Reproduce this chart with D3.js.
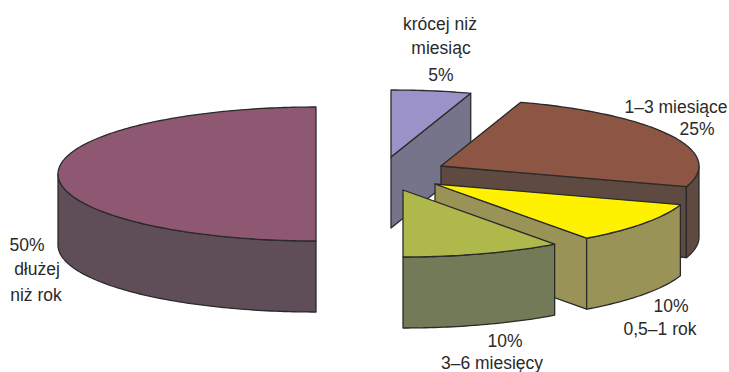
<!DOCTYPE html>
<html>
<head>
<meta charset="utf-8">
<script src="https://cdnjs.cloudflare.com/ajax/libs/d3/7.8.5/d3.min.js"></script>
<style>
  html, body { margin: 0; padding: 0; background: #fff; }
  svg { display: block; }
  text { font-family: "Liberation Sans", Arial, sans-serif; font-size: 17.5px; fill: #2b2a2a; }
</style>
</head>
<body>
<svg id="chart" width="729" height="372"></svg>
<script>
// Slice data, clockwise from the "1–3 miesiące" wedge
const categories = ["1–3 miesiące", "0,5–1 rok", "3–6 miesięcy", "dłużej niż rok", "krócej niż miesiąc"];
const shares = [25, 10, 10, 50, 5];

// Colours per slice: top face and side walls
const topColors = ["#8c5544", "#fff200", "#afb84a", "#8e5873", "#9b93c8"];
const wallColors = ["#5f4a42", "#9a9358", "#737a58", "#5f4e58", "#76748a"];

// Exploded position of each slice's apex
const apexX = [441, 435, 403, 316, 391];
const apexY = [166, 184, 190, 174, 157];

// Painter's order: back to front
const drawOrder = [4, 3, 0, 1, 2];

// Multi-line labels
const labelRows = [
  { lines: ["1–3 miesiące", "25%"], x: [676, 697], y: [113, 135] },
  { lines: ["10%", "0,5–1 rok"], x: [671, 660], y: [312, 335] },
  { lines: ["10%", "3–6 miesięcy"], x: [505, 492], y: [347, 369] },
  { lines: ["50%", "dłużej", "niż rok"], x: [27, 37, 36], y: [251, 275, 301] },
  { lines: ["krócej niż", "miesiąc", "5%"], x: [440, 441, 441], y: [30, 54, 81] }
];

const radiusX = 258, radiusY = 67, depth = 71;
const deg = Math.PI / 180;
const firstAngle = 18 * deg;

const svg = d3.select("#chart");

const pie = d3.pie().sort(null).startAngle(firstAngle).endAngle(firstAngle + 2 * Math.PI);
const arcs = pie(shares);

const pathLine = d3.line();

// Point on the tilted rim, angle measured clockwise from north
const rim = (i, a, drop = 0) => [
  apexX[i] + radiusX * Math.sin(a),
  apexY[i] - radiusY * Math.cos(a) + drop
];

const sample = (a0, a1) => {
  const n = Math.max(2, Math.ceil(Math.abs(a1 - a0) / deg));
  return d3.range(n + 1).map(k => a0 + (a1 - a0) * k / n);
};

const sliceLayer = svg.append("g")
  .attr("stroke", "#2b2a2a")
  .attr("stroke-width", 1.3)
  .attr("stroke-linejoin", "round");

drawOrder.forEach(i => {
  const { startAngle: a0, endAngle: a1 } = arcs[i];
  const apex = [apexX[i], apexY[i]];
  const g = sliceLayer.append("g").attr("class", "slice");

  // Cut face on the trailing edge, drawn when that edge points to the right of the apex
  if (Math.sin(a1) > 0.01) {
    const e = rim(i, a1);
    g.append("path")
      .attr("fill", wallColors[i])
      .attr("d", pathLine([apex, e, [e[0], e[1] + depth], [apex[0], apex[1] + depth]]) + "Z");
  }

  // Outer wall: only the part of the rim on the near side of the ellipse
  const wa0 = Math.max(a0, 90 * deg);
  const wa1 = Math.min(a1, 270 * deg);
  if (wa1 > wa0) {
    const angles = sample(wa0, wa1);
    const upper = angles.map(a => rim(i, a));
    const lower = angles.map(a => rim(i, a, depth)).reverse();
    g.append("path")
      .attr("fill", wallColors[i])
      .attr("d", pathLine(upper.concat(lower)) + "Z");
  }

  // Top face
  const top = [apex].concat(sample(a0, a1).map(a => rim(i, a)));
  g.append("path")
    .attr("fill", topColors[i])
    .attr("d", pathLine(top) + "Z");
});

// Labels
const labelLayer = svg.append("g").attr("text-anchor", "middle");
labelRows.forEach(row => {
  row.lines.forEach((t, k) => {
    labelLayer.append("text").attr("x", row.x[k]).attr("y", row.y[k]).text(t);
  });
});
</script>
</body>
</html>
